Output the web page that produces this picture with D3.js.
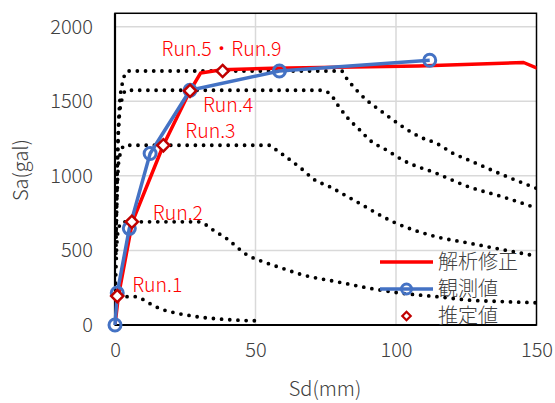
<!DOCTYPE html>
<html>
<head>
<meta charset="utf-8">
<script src="https://cdn.jsdelivr.net/npm/d3@7"></script>
<style>
  body { margin: 0; background: #fff; }
  svg { display: block; font-family: "Noto Sans CJK JP", "Noto Sans", sans-serif; font-weight: 300; }
</style>
</head>
<body>
<svg id="chart" width="555" height="403"></svg>
<script>
// tick values
var sdTicks = [0, 50, 100, 150];
var saTicks = [0, 500, 1000, 1500, 2000];

// 解析修正 (analysis)
var analysisSd = [0, 1.2, 6.2, 17.2, 26.7, 30.5, 38, 56, 108, 145.4, 151.5];
var analysisSa = [0, 194, 692, 1205, 1570, 1690, 1712, 1722, 1737, 1760, 1712];

// 観測値 (observed)
var observedSd = [0, 0.8, 5.1, 12.5, 26.7, 58.5, 112];
var observedSa = [0, 215, 648, 1150, 1574, 1703, 1775];

// 推定値 (estimated) with run labels
var estimatedSd = [0.8, 6.0, 17.2, 26.7, 38.3];
var estimatedSa = [194, 692, 1205, 1570, 1703];
var runLabels = ["Run.1", "Run.2", "Run.3", "Run.4", "Run.5・Run.9"];

// demand spectra (dotted)
var demand1Sd = [0.1, 0.5, 1.2, 2.5, 7, 9, 11.3, 13.5, 16, 20.8, 26, 31.4, 36.8, 42, 48, 51];
var demand1Sa = [80, 150, 182, 190, 190, 180, 156, 132, 110, 84, 65, 50, 41, 34, 29, 28];
var demand2Sd = [0.2, 0.6, 1.2, 2.5, 30, 32.5, 35, 39.7, 47, 52.7, 58, 67, 79, 90.7, 102.5, 114.5, 126, 138, 150];
var demand2Sa = [280, 520, 640, 692, 692, 670, 636, 580, 470, 424, 390, 335, 290, 246, 212, 190, 167, 157, 149];
var demand3Sd = [0.3, 0.8, 1.5, 3.5, 55, 57.5, 60, 67, 70.5, 76.5, 85, 100, 114.5, 126, 138, 150];
var demand3Sa = [480, 900, 1120, 1205, 1205, 1172, 1139, 1038, 980, 926, 837, 683, 591, 549, 505, 462];
var demand4Sd = [0.4, 1.0, 1.9, 4, 73, 76.5, 78.9, 82.5, 87.2, 90.7, 96.7, 102.5, 114.5, 126, 138, 150];
var demand4Sa = [630, 1180, 1460, 1574, 1574, 1552, 1485, 1395, 1306, 1239, 1172, 1105, 1016, 926, 859, 784];
var demand5Sd = [0.4, 1.1, 2.2, 4.5, 80.6, 82.5, 86, 89.6, 94.3, 102.5, 108.5, 114.5, 120.4, 126, 138.2, 150];
var demand5Sa = [680, 1250, 1580, 1703, 1703, 1652, 1574, 1507, 1440, 1328, 1261, 1217, 1150, 1105, 1005, 916];

var legendNames = ["解析修正", "観測値", "推定値"];

var svg = d3.select("#chart");
var x = d3.scaleLinear().domain([0, 150]).range([115, 536.5]);
var y = d3.scaleLinear().domain([0, 2000]).range([325, 26.7]);
var yTop = 2090;

function zip(a, b) { return a.map(function(v, i) { return [v, b[i]]; }); }

svg.append("clipPath").attr("id", "plotClip").append("rect")
  .attr("x", x(0)).attr("y", y(yTop))
  .attr("width", x(150) - x(0)).attr("height", y(0) - y(yTop));

// gridlines
svg.append("g").selectAll("line").data(saTicks.filter(function(d) { return d > 0; })).enter()
  .append("line")
  .attr("x1", x(0)).attr("x2", x(150))
  .attr("y1", function(d) { return y(d); }).attr("y2", function(d) { return y(d); })
  .attr("stroke", "#d9d9d9").attr("stroke-width", 1.5);
svg.append("g").selectAll("line").data(sdTicks.filter(function(d) { return d > 0 && d < 150; })).enter()
  .append("line")
  .attr("y1", y(0)).attr("y2", y(yTop))
  .attr("x1", function(d) { return x(d); }).attr("x2", function(d) { return x(d); })
  .attr("stroke", "#d9d9d9").attr("stroke-width", 1.5);

// plot frame
svg.append("rect")
  .attr("x", x(0)).attr("y", y(yTop))
  .attr("width", x(150) - x(0)).attr("height", y(0) - y(yTop))
  .attr("fill", "none").attr("stroke", "#000").attr("stroke-width", 1.5);

var plot = svg.append("g").attr("clip-path", "url(#plotClip)");

var smooth = d3.line().x(function(d) { return x(d[0]); }).y(function(d) { return y(d[1]); })
  .curve(d3.curveMonotoneX);
var straight = d3.line().x(function(d) { return x(d[0]); }).y(function(d) { return y(d[1]); });

var demands = [zip(demand1Sd, demand1Sa), zip(demand2Sd, demand2Sa), zip(demand3Sd, demand3Sa),
               zip(demand4Sd, demand4Sa), zip(demand5Sd, demand5Sa)];
plot.selectAll(".demand").data(demands).enter()
  .append("path").attr("class", "demand")
  .attr("d", smooth)
  .attr("fill", "none").attr("stroke", "#000")
  .attr("stroke-width", 3.8)
  .attr("stroke-linecap", "round")
  .attr("stroke-dasharray", "0 8.2");

// axes lines (left and bottom heavier)
svg.append("line").attr("x1", x(0)).attr("x2", x(0)).attr("y1", y(0)).attr("y2", y(yTop))
  .attr("stroke", "#000").attr("stroke-width", 2.2);
svg.append("line").attr("x1", x(0)).attr("x2", x(150)).attr("y1", y(0)).attr("y2", y(0))
  .attr("stroke", "#000").attr("stroke-width", 2.2);

// analysis line
plot.append("path").datum(zip(analysisSd, analysisSa))
  .attr("d", straight)
  .attr("fill", "none").attr("stroke", "#ff0000")
  .attr("stroke-width", 3.5).attr("stroke-linejoin", "round");

// observed line + markers
var obs = zip(observedSd, observedSa);
svg.append("path").datum(obs)
  .attr("d", straight)
  .attr("fill", "none").attr("stroke", "#4472c4")
  .attr("stroke-width", 3.5).attr("stroke-linejoin", "round");
svg.append("g").selectAll("circle").data(obs).enter()
  .append("circle")
  .attr("cx", function(d) { return x(d[0]); }).attr("cy", function(d) { return y(d[1]); })
  .attr("r", 6).attr("fill", "none").attr("stroke", "#4472c4").attr("stroke-width", 3);

// estimated diamonds
var diamond = d3.symbol().type(d3.symbolDiamond2).size(95);
var est = zip(estimatedSd, estimatedSa);
svg.append("g").selectAll("path").data(est).enter()
  .append("path")
  .attr("d", diamond)
  .attr("transform", function(d) { return "translate(" + x(d[0]) + "," + y(d[1]) + ")"; })
  .attr("fill", "#fff").attr("stroke", "#c00000").attr("stroke-width", 2.5);

// run labels
var labelOffset = [[15, -4], [21, -2], [22, -7], [13, 21], [-61, -15]];
svg.append("g").selectAll("text").data(est).enter()
  .append("text")
  .attr("x", function(d, i) { return x(d[0]) + labelOffset[i][0]; })
  .attr("y", function(d, i) { return y(d[1]) + labelOffset[i][1]; })
  .attr("fill", "#ff0000").attr("font-size", 19.5)
  .text(function(d, i) { return runLabels[i]; });

// tick labels
var yAxis = svg.append("g").attr("transform", "translate(" + (x(0) - 22) + ",0)")
  .call(d3.axisLeft(y).tickValues(saTicks).tickFormat(d3.format("d")).tickSize(0).tickPadding(0));
var xAxis = svg.append("g").attr("transform", "translate(0," + (y(0) + 18) + ")")
  .call(d3.axisBottom(x).tickValues(sdTicks).tickFormat(d3.format("d")).tickSize(0).tickPadding(0));
[xAxis, yAxis].forEach(function(a) {
  a.select(".domain").remove();
  a.selectAll("text").attr("font-size", 20).attr("fill", "#404040")
    .attr("font-family", "'Noto Sans CJK JP', sans-serif").attr("font-weight", 300);
});

// axis titles
svg.append("text").attr("transform", "translate(28,170) rotate(-90)")
  .attr("text-anchor", "middle").attr("font-size", 20).attr("fill", "#404040")
  .text("Sa(gal)");
svg.append("text").attr("x", 325).attr("y", 396)
  .attr("text-anchor", "middle").attr("font-size", 20).attr("fill", "#404040")
  .text("Sd(mm)");

// legend
var legend = svg.append("g").attr("transform", "translate(380,262)");
var legendRow = 27;
legendNames.forEach(function(name, i) {
  var g = legend.append("g").attr("transform", "translate(0," + (i * legendRow) + ")");
  if (i === 0) {
    g.append("line").attr("x1", 0).attr("x2", 53).attr("stroke", "#ff0000").attr("stroke-width", 3.5);
  } else if (i === 1) {
    g.append("line").attr("x1", 0).attr("x2", 53).attr("stroke", "#4472c4").attr("stroke-width", 3.5);
    g.append("circle").attr("cx", 26.5).attr("r", 5).attr("fill", "none")
      .attr("stroke", "#4472c4").attr("stroke-width", 3);
  } else {
    g.append("path").attr("d", d3.symbol().type(d3.symbolDiamond2).size(45))
      .attr("transform", "translate(26.5,0)")
      .attr("fill", "#fff").attr("stroke", "#c00000").attr("stroke-width", 2.2);
  }
  g.append("text").attr("x", 58).attr("y", 0).attr("dy", "0.35em")
    .attr("font-size", 20).attr("fill", "#404040").text(name);
});
</script>
</body>
</html>
